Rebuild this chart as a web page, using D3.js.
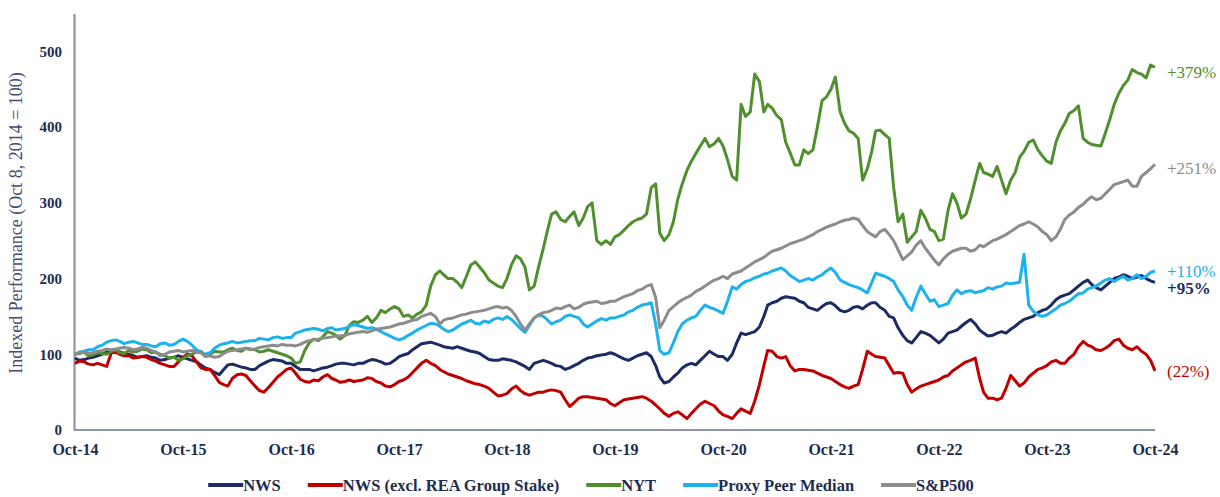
<!DOCTYPE html>
<html>
<head>
<meta charset="utf-8">
<script src="https://cdn.jsdelivr.net/npm/d3@7"></script>
<style>
  html, body { margin: 0; padding: 0; background: #ffffff; }
  svg { display: block; }
  text { font-family: "Liberation Serif", "Times New Roman", serif; }
</style>
</head>
<body>
<svg id="chart" width="1220" height="497"></svg>
<script>
// ---------------- DATA (twice a month, Oct 8 2014 .. Oct 8 2024, index = 100) ----------------
const seriesNames = ["NWS", "NWS (excl. REA Group Stake)", "NYT", "Proxy Peer Median", "S&P500"];
const endLabels = ["+95%", "(22%)", "+379%", "+110%", "+251%"];
const yTicks = [0, 100, 200, 300, 400, 500];
const xTickYears = [2014, 2015, 2016, 2017, 2018, 2019, 2020, 2021, 2022, 2023, 2024];

const nws = [
  95,92,93,95,96,98,100,103,104,102,103,101,100,98,96,97,98,96,95,92,93,95,96,98,
  96,94,92,90,86,82,80,76,73,80,86,87,85,83,82,80,80,85,88,91,93,92,91,88,
  88,84,80,80,80,78,80,82,83,85,87,88,88,87,86,88,88,91,93,92,90,87,88,92,
  97,99,101,106,110,114,115,116,114,112,110,109,108,110,108,106,104,103,101,97,93,92,92,94,
  93,92,90,87,84,80,88,90,92,90,88,85,84,80,82,85,88,92,95,96,98,99,100,102,
  100,97,94,92,95,98,100,102,97,85,70,62,64,70,75,82,86,88,86,92,98,104,100,97,
  97,92,100,115,128,126,128,130,136,150,165,168,170,174,176,175,174,170,168,162,160,158,163,167,
  168,164,158,156,158,162,163,160,165,168,168,162,158,150,148,135,125,118,115,122,130,128,125,120,
  115,120,128,130,132,137,142,146,140,132,128,124,125,128,130,128,133,137,142,146,148,150,155,158,
  160,165,172,176,178,180,185,190,195,198,192,188,185,190,195,200,202,205,203,200,202,204,200,197,
  195
];
const nwsExRea = [
  88,91,90,87,86,88,86,84,102,103,100,98,98,95,96,97,96,93,91,88,86,84,84,90,
  96,100,98,90,82,80,80,72,63,60,58,68,73,74,72,65,58,52,50,56,63,70,75,80,
  82,75,67,64,63,66,65,70,73,68,66,63,64,66,64,65,66,69,68,64,62,58,57,60,
  64,66,70,76,82,88,92,88,85,80,77,74,72,70,68,65,63,61,60,58,55,50,45,46,
  48,54,58,52,48,46,48,50,50,52,53,52,50,40,31,36,42,44,44,43,42,41,40,35,
  32,36,40,41,42,43,44,42,38,33,28,22,18,22,24,20,15,22,28,34,38,35,32,25,
  20,18,15,22,28,25,22,38,60,85,105,104,97,95,97,85,78,80,80,79,78,75,72,70,
  68,64,60,57,55,58,60,80,104,100,97,96,95,85,75,76,75,60,50,54,58,60,62,64,
  66,70,72,78,82,86,90,92,95,68,50,42,42,40,42,55,72,65,58,62,70,75,80,82,
  85,90,92,88,88,95,100,110,117,112,110,106,105,108,112,118,120,112,108,106,110,104,100,92,
  78
];
const nyt = [
  100,101,103,98,99,102,101,100,104,106,102,101,105,103,104,107,106,102,103,100,98,95,96,92,
  94,98,100,103,104,98,100,104,103,103,106,108,105,104,108,107,106,103,104,106,104,102,100,98,
  95,88,90,105,115,120,118,123,130,128,125,120,125,138,143,142,145,150,142,148,158,155,160,163,
  160,150,152,148,153,156,165,190,205,210,205,200,200,195,188,202,218,222,215,208,198,194,190,188,
  200,218,230,226,215,185,190,215,240,265,285,288,278,275,282,288,270,280,295,300,250,245,250,245,
  255,258,264,270,275,278,280,285,320,325,260,250,258,275,305,325,343,355,365,375,385,374,378,385,
  375,357,335,330,430,414,420,470,460,420,430,425,415,410,380,366,350,350,370,365,370,400,435,440,
  450,466,420,405,395,392,385,330,345,368,395,396,390,385,320,275,285,248,255,262,290,280,265,262,
  250,252,290,312,300,280,285,305,330,352,340,338,335,348,330,312,330,340,360,368,380,383,370,362,
  355,352,380,395,405,418,422,428,385,380,377,376,375,392,410,430,445,455,462,476,472,470,465,482,
  479
];
const proxyPeer = [
  100,103,104,106,106,110,112,116,118,119,117,114,116,117,115,113,113,111,110,114,115,112,113,117,
  120,117,112,106,103,100,102,108,112,114,115,117,115,116,117,118,118,121,120,119,122,123,121,122,
  122,128,130,132,133,134,133,131,134,135,132,133,134,137,139,138,136,134,135,133,130,127,124,121,
  119,121,125,128,132,135,138,141,140,137,133,130,132,136,140,142,145,141,140,144,142,146,148,146,
  150,146,140,134,129,138,148,152,150,145,140,143,145,150,152,150,148,140,136,140,144,147,145,148,
  148,150,152,156,158,162,165,166,168,140,105,100,102,115,130,140,145,148,150,158,165,162,160,157,
  154,170,189,186,192,196,198,201,203,206,207,210,212,214,210,204,200,196,198,200,198,202,205,210,
  214,208,198,195,192,190,188,185,181,195,207,205,203,200,196,185,176,165,158,175,190,180,170,172,
  163,165,167,178,185,180,183,184,181,183,184,188,186,189,190,194,193,194,195,232,165,157,152,150,
  152,156,160,165,167,170,175,180,181,186,188,190,194,198,200,196,200,203,198,200,205,200,203,208,
  210
];
const sp500 = [
  100,102,103,101,102,104,105,107,106,107,108,109,108,106,107,109,108,105,103,98,100,103,104,105,
  103,104,105,103,102,97,98,96,97,101,104,105,106,107,108,106,107,109,110,111,112,111,113,112,
  112,111,113,116,118,119,120,121,122,123,124,124,125,127,128,129,130,129,131,133,134,135,136,138,
  140,141,143,145,146,150,152,154,150,140,145,147,148,150,152,153,155,156,157,158,160,162,163,161,
  162,158,150,140,132,140,148,152,155,156,158,161,160,163,165,160,162,166,168,169,170,167,168,170,
  170,173,176,178,180,184,186,190,192,175,135,145,158,163,168,172,175,178,183,186,190,194,198,200,
  203,200,206,208,210,214,218,222,225,228,232,236,238,240,243,246,248,250,252,255,258,262,265,268,
  270,272,275,277,278,280,278,270,262,258,255,262,265,258,250,238,225,230,235,244,250,240,232,224,
  218,226,232,236,238,240,240,236,238,244,242,246,250,252,255,258,262,266,270,272,275,272,268,262,
  258,250,255,265,278,284,288,294,298,304,308,304,306,312,318,324,326,328,330,322,322,335,340,345,
  351
];
const allSeries = [nws, nwsExRea, nyt, proxyPeer, sp500];

// ---------------- STYLE ----------------
const colors = ["#1c2b63", "#c00000", "#4f8f2d", "#1cb2ee", "#8c8c8c"];
const labelDy = [6, 0, 5, 0, 4];
const labelWeight = ["bold", "normal", "normal", "normal", "normal"];
const axisColor = "#8d95a7";
const textColor = "#1f2c4f";

const startDate = new Date(2014, 9, 8);
const dates = d3.range(nws.length).map(k =>
  d3.timeDay.offset(d3.timeMonth.offset(startDate, Math.floor(k / 2)), (k % 2) ? 15 : 0));

const svg = d3.select("#chart");
const x = d3.scaleTime().domain([dates[0], dates[dates.length - 1]]).range([75, 1155]);
const y = d3.scaleLinear().domain([0, 550]).range([430, 13.5]);

// Axes
const yAxis = svg.append("g").attr("transform", "translate(74,0)")
  .call(d3.axisLeft(y).tickValues(yTicks).tickSize(0).tickPadding(12).tickFormat(d3.format("d")));
const xTickDates = xTickYears.map(yr => new Date(yr, 9, 8));
const xAxis = svg.append("g").attr("transform", "translate(0,430)")
  .call(d3.axisBottom(x).tickValues(xTickDates).tickSize(0).tickPadding(14).tickFormat(d3.timeFormat("%b-%y")));
xAxis.select(".domain").attr("d", "M74,0H1155");
[yAxis, xAxis].forEach(g => {
  g.select(".domain").attr("stroke", axisColor).attr("stroke-width", 2.2);
  g.selectAll("text").attr("fill", textColor).style("font-size", "15px").style("font-weight", "bold")
    .style("font-family", '"Liberation Serif", "Times New Roman", serif');
});
xAxis.selectAll("text").style("font-size", "16px");

// Y title
svg.append("text")
  .attr("transform", "translate(22,223) rotate(-90)")
  .attr("text-anchor", "middle")
  .attr("fill", "#3f4e6e")
  .style("font-size", "18px")
  .text("Indexed Performance (Oct 8, 2014 = 100)");

// Lines
const line = d3.line().x((d, i) => x(dates[i])).y(d => y(d));
svg.append("g").selectAll("path").data(allSeries).join("path")
  .attr("d", d => line(d))
  .attr("fill", "none")
  .attr("stroke", (d, i) => colors[i])
  .attr("stroke-width", 3)
  .attr("stroke-linejoin", "round");

// End labels
svg.append("g").selectAll("text").data(allSeries).join("text")
  .attr("x", 1167)
  .attr("y", (d, i) => y(d[d.length - 1]) + labelDy[i])
  .attr("dy", "0.35em")
  .attr("fill", (d, i) => colors[i])
  .style("font-size", "17px")
  .style("font-weight", (d, i) => labelWeight[i])
  .text((d, i) => endLabels[i]);

// Legend
const legend = svg.append("g").attr("transform", "translate(0,485)");
const items = legend.selectAll("g").data(seriesNames).join("g");
items.append("line").attr("x1", 0).attr("x2", 35).attr("y1", 0).attr("y2", 0)
  .attr("stroke", (d, i) => colors[i]).attr("stroke-width", 4);
items.append("text").attr("x", 35).attr("dy", "0.35em")
  .attr("fill", textColor).style("font-size", "16.5px").style("font-weight", "bold")
  .text(d => d);
const widths = [];
items.each(function () { widths.push(this.getBBox().width); });
const gap = 27;
const total = d3.sum(widths) + gap * (widths.length - 1);
let cx = 591 - total / 2;
items.attr("transform", (d, i) => { const t = `translate(${cx},0)`; cx += widths[i] + gap; return t; });

// sanity check on data lengths
allSeries.forEach((s, i) => {
  if (s.length !== dates.length) svg.append("text").attr("x", 300).attr("y", 30 + i * 16)
    .attr("fill", "red").text(seriesNames[i] + " length " + s.length);
});
</script>
</body>
</html>
